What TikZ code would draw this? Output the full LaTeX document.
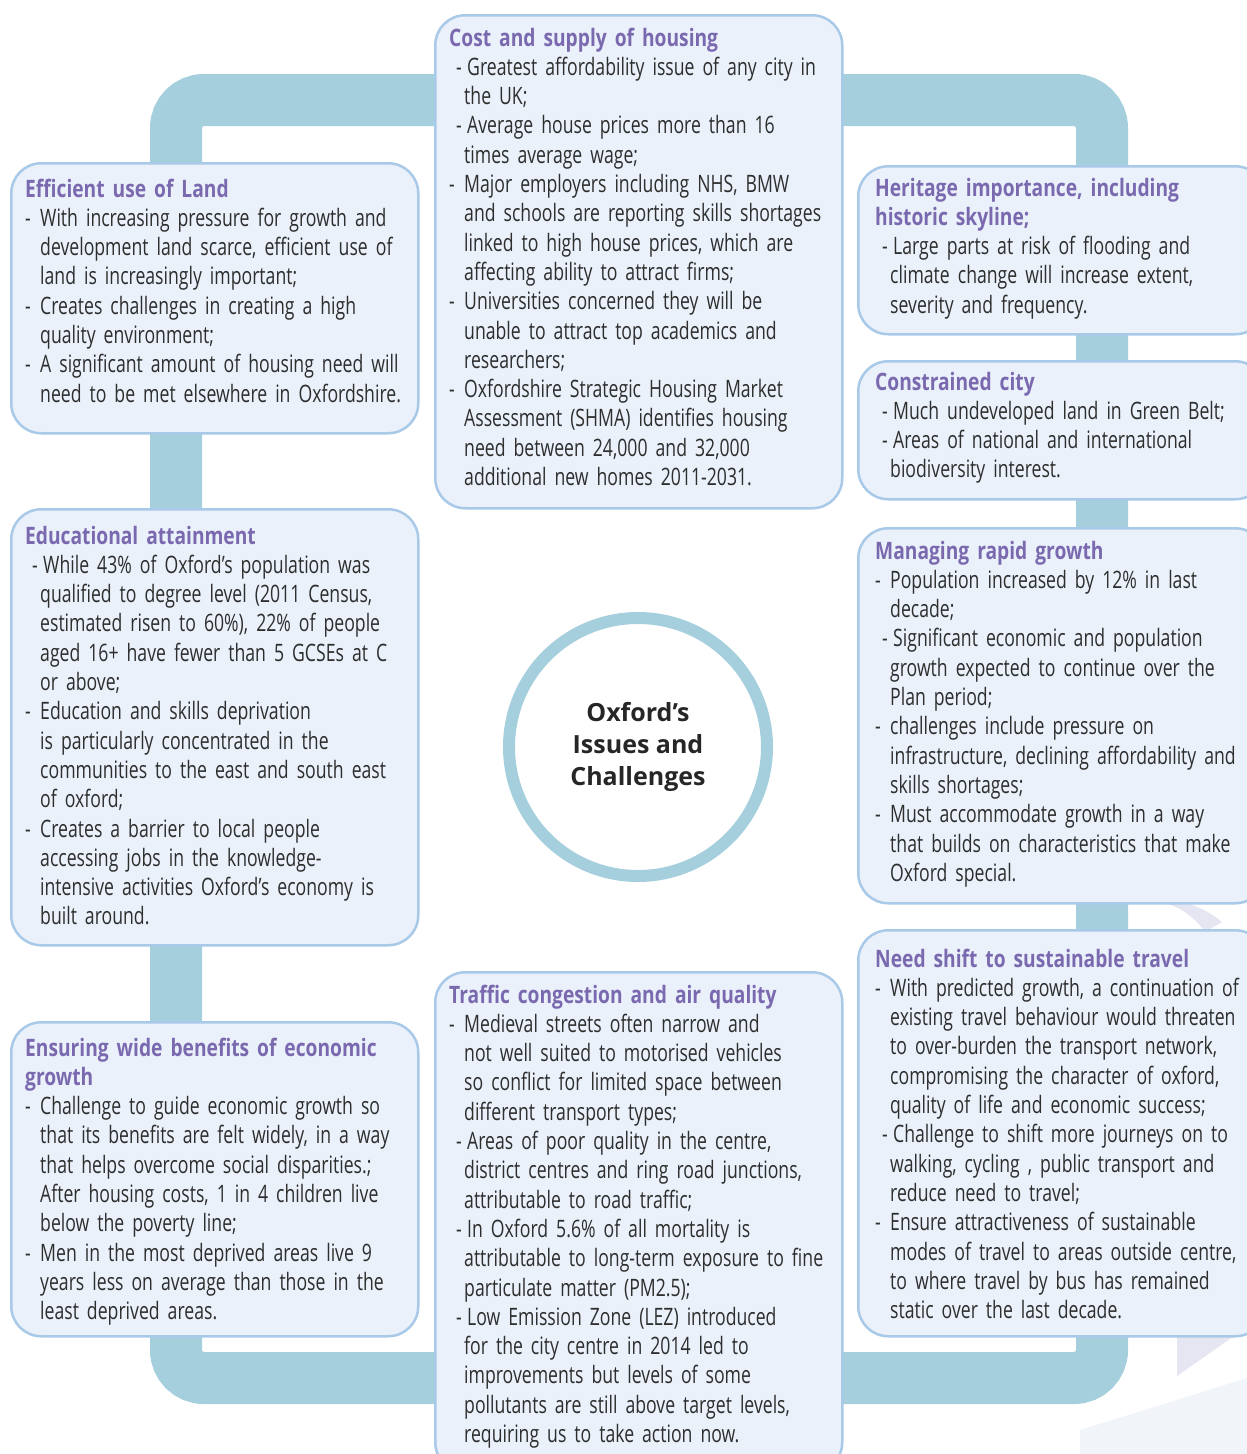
\documentclass[tikz,border=0pt]{standalone}
\usepackage{fontspec}
\setmainfont{Open Sans}[UprightFeatures={FakeStretch=0.735}, BoldFeatures={FakeStretch=0.8}]
\newfontfamily\hubfont{Open Sans}
\usetikzlibrary{positioning}
\definecolor{ringblue}{HTML}{A6CFDE}
\definecolor{boxfill}{HTML}{EAF1FA}
\definecolor{boxline}{HTML}{A9C9E8}
\definecolor{headpurple}{HTML}{7A69AF}
\definecolor{bodygrey}{HTML}{2E2E2E}
\definecolor{paleviolet}{HTML}{E6E5F2}
\definecolor{paleblue}{HTML}{F1F5F9}
\newcommand{\head}[1]{{\bfseries\color{headpurple}#1}}
\newcommand{\dd}{\makebox[15pt][l]{-}}
\newcommand{\di}{\makebox[18pt][l]{\hspace{7pt}-}}
\newcommand{\ii}{\hspace*{15pt}}

\begin{document}
\begin{tikzpicture}[x=1pt, y=-1pt,
    ring/.style = {draw=ringblue, line width=52pt, rounded corners=28pt},
    box/.style = {draw=boxline, fill=boxfill, line width=2.5pt, rounded corners=30pt, anchor=north west, inner sep=0pt},
    txt/.style = {anchor=base west, inner sep=0pt, text width=400pt, align=left, text=bodygrey, font=\fontsize{24}{29.3}\selectfont},
    hub/.style = {circle, draw=ringblue, line width=12pt, fill=white, minimum size=258pt, align=center, text=black!85, font=\hubfont\bfseries\fontsize{25}{32}\selectfont}]
    \useasboundingbox (0,0) rectangle (1247,1454);
    \clip (0,0) rectangle (1247,1454);
    \fill[paleblue] (1080,1430) -- (1247,1378) -- (1247,1454) -- (1080,1454) -- cycle;
    \fill[paleviolet] (1165,899) .. controls (1190,902) and (1208,910) .. (1222,922) -- (1205,932) .. controls (1195,918) and (1182,908) .. (1165,903) -- cycle;
    \fill[paleviolet] (1177,1336) -- (1234,1336) -- (1177,1376) -- cycle;
    \draw[ring] (176,100) rectangle (1102,1378);

    \node[box, minimum width=407, minimum height=270] (land) at (10,162) {};
    \node[box, minimum width=407, minimum height=493] (housing) at (434,14) {};
    \node[box, minimum width=407, minimum height=168] (heritage) at (857,165) {};
    \node[box, minimum width=407, minimum height=138] (constrained) at (857,360) {};
    \node[box, minimum width=407, minimum height=375] (growth) at (857,527) {};
    \node[box, minimum width=407, minimum height=406] (travel) at (857,929) {};
    \node[box, minimum width=407, minimum height=436] (education) at (10,508) {};
    \node[box, minimum width=407, minimum height=314] (benefits) at (10,1021) {};
    \node[box, minimum width=407, minimum height=500] (traffic) at (434,971) {};

    \node[txt] (landtxt) at (25,197) {\head{Efficient use of Land}\\
        \dd With increasing pressure for growth and\\
        \ii development land scarce, efficient use of\\
        \ii land is increasingly important;\\
        \dd Creates challenges in creating a high\\
        \ii quality environment;\\
        \dd A significant amount of housing need will\\
        \ii need to be met elsewhere in Oxfordshire.};
    \node[txt] (housingtxt) at (449,46) {\head{Cost and supply of housing}\\
        \di Greatest affordability issue of any city in\\
        \ii the UK;\\
        \di Average house prices more than 16\\
        \ii times average wage;\\
        \dd Major employers including NHS, BMW\\
        \ii and schools are reporting skills shortages\\
        \ii linked to high house prices, which are\\
        \ii affecting ability to attract firms;\\
        \dd Universities concerned they will be\\
        \ii unable to attract top academics and\\
        \ii researchers;\\
        \dd Oxfordshire Strategic Housing Market\\
        \ii Assessment (SHMA) identifies housing\\
        \ii need between 24,000 and 32,000\\
        \ii additional new homes 2011-2031.};
    \node[txt] (heritagetxt) at (875,196) {\head{Heritage importance, including}\\
        \head{historic skyline;}\\
        \di Large parts at risk of flooding and\\
        \ii climate change will increase extent,\\
        \ii severity and frequency.};
    \node[txt] (constrainedtxt) at (875,390) {\head{Constrained city}\\
        \di Much undeveloped land in Green Belt;\\
        \di Areas of national and international\\
        \ii biodiversity interest.};
    \node[txt] (growthtxt) at (875,559) {\head{Managing rapid growth}\\
        \dd Population increased by 12\% in last\\
        \ii decade;\\
        \di Significant economic and population\\
        \ii growth expected to continue over the\\
        \ii Plan period;\\
        \dd challenges include pressure on\\
        \ii infrastructure, declining affordability and\\
        \ii skills shortages;\\
        \dd Must accommodate growth in a way\\
        \ii that builds on characteristics that make\\
        \ii Oxford special.};
    \node[txt] (traveltxt) at (875,967) {\head{Need shift to sustainable travel}\\
        \dd With predicted growth, a continuation of\\
        \ii existing travel behaviour would threaten\\
        \ii to over-burden the transport network,\\
        \ii compromising the character of oxford,\\
        \ii quality of life and economic success;\\
        \di Challenge to shift more journeys on to\\
        \ii walking, cycling , public transport and\\
        \ii reduce need to travel;\\
        \dd Ensure attractiveness of sustainable\\
        \ii modes of travel to areas outside centre,\\
        \ii to where travel by bus has remained\\
        \ii static over the last decade.};
    \node[txt] (educationtxt) at (25,544) {\head{Educational attainment}\\
        \di While 43\% of Oxford’s population was\\
        \ii qualified to degree level (2011 Census,\\
        \ii estimated risen to 60\%), 22\% of people\\
        \ii aged 16+ have fewer than 5 GCSEs at C\\
        \ii or above;\\
        \dd Education and skills deprivation\\
        \ii is particularly concentrated in the\\
        \ii communities to the east and south east\\
        \ii of oxford;\\
        \dd Creates a barrier to local people\\
        \ii accessing jobs in the knowledge-\\
        \ii intensive activities Oxford’s economy is\\
        \ii built around.};
    \node[txt] (benefitstxt) at (25,1056) {\head{Ensuring wide benefits of economic}\\
        \head{growth}\\
        \dd Challenge to guide economic growth so\\
        \ii that its benefits are felt widely, in a way\\
        \ii that helps overcome social disparities.;\\
        \ii After housing costs, 1 in 4 children live\\
        \ii below the poverty line;\\
        \dd Men in the most deprived areas live 9\\
        \ii years less on average than those in the\\
        \ii least deprived areas.};
    \node[txt] (traffictxt) at (449,1003) {\head{Traffic congestion and air quality}\\
        \dd Medieval streets often narrow and\\
        \ii not well suited to motorised vehicles\\
        \ii so conflict for limited space between\\
        \ii different transport types;\\
        \di Areas of poor quality in the centre,\\
        \ii district centres and ring road junctions,\\
        \ii attributable to road traffic;\\
        \di In Oxford 5.6\% of all mortality is\\
        \ii attributable to long-term exposure to fine\\
        \ii particulate matter (PM2.5);\\
        \di Low Emission Zone (LEZ) introduced\\
        \ii for the city centre in 2014 led to\\
        \ii improvements but levels of some\\
        \ii pollutants are still above target levels,\\
        \ii requiring us to take action now.};

    \node[hub] (centre) at (638,747) {Oxford’s\\Issues and\\Challenges};
\end{tikzpicture}
\end{document}
